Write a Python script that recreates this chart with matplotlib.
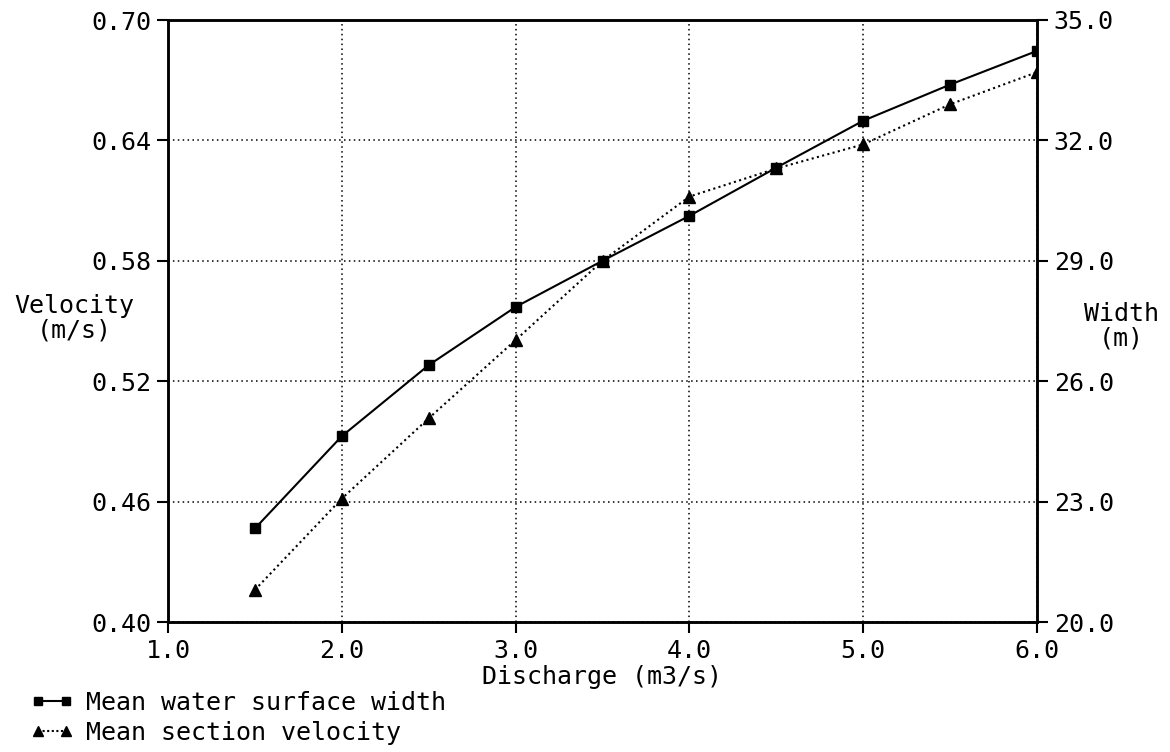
import matplotlib
matplotlib.use("Agg")
import matplotlib.pyplot as plt
from matplotlib.ticker import FormatStrFormatter
from matplotlib.lines import Line2D

# Discharge (m3/s) and the two hydraulic parameters
discharge = [1.5, 2.0, 2.5, 3.0, 3.5, 4.0, 4.5, 5.0, 5.5, 6.0]
surface_width = [22.33, 24.63, 26.40, 27.85, 29.00, 30.12, 31.32, 32.49, 33.39, 34.23]
section_velocity = [0.416, 0.4615, 0.5015, 0.5405, 0.580, 0.612, 0.626, 0.638, 0.658, 0.674]

x_ticks = [1.0, 2.0, 3.0, 4.0, 5.0, 6.0]
velocity_ticks = [0.40, 0.46, 0.52, 0.58, 0.64, 0.70]
width_ticks = [20.0, 23.0, 26.0, 29.0, 32.0, 35.0]

FONT = "DejaVu Sans Mono"
FS = 18
plt.rcParams["font.family"] = FONT

fig = plt.figure(figsize=(11.70, 7.52), dpi=100)
ax = fig.add_axes([168 / 1170, 1 - 622 / 752, (1037 - 168) / 1170, (622 - 20) / 752])
ax2 = ax.twinx()

for a in (ax, ax2):
    for sp in a.spines.values():
        sp.set_linewidth(1.8)
        sp.set_color("black")

ax.set_xlim(1.0, 6.0)
ax.set_ylim(0.40, 0.70)
ax2.set_ylim(20.0, 35.0)

ax.set_xticks(x_ticks)
ax.set_yticks(velocity_ticks)
ax2.set_yticks(width_ticks)
ax.xaxis.set_major_formatter(FormatStrFormatter("%.1f"))
ax.yaxis.set_major_formatter(FormatStrFormatter("%.2f"))
ax2.yaxis.set_major_formatter(FormatStrFormatter("%.1f"))

ax.tick_params(axis="both", direction="out", length=8, width=1.5, labelsize=FS, pad=4)
ax2.tick_params(axis="y", direction="out", length=8, width=1.5, labelsize=FS, pad=4)

# dotted grid at the inner tick positions
ax.grid(True, color="black", linestyle=(0, (1, 2.2)), linewidth=1.1)
ax.set_axisbelow(True)

ax2.plot(discharge, surface_width, color="black", linewidth=1.5,
         marker="s", markersize=7, zorder=5)
ax.plot(discharge, section_velocity, color="black", linewidth=1.5,
        linestyle=(0, (1, 1.6)), marker="^", markersize=9, zorder=5)

ax.set_xlabel("Discharge (m3/s)", fontsize=FS, labelpad=2)

fig.text(74 / 1170, 1 - 318 / 752, "Velocity\n(m/s)", fontsize=FS,
         ha="center", va="center", multialignment="center", linespacing=1.05)
fig.text(1121 / 1170, 1 - 326 / 752, "Width\n(m)", fontsize=FS,
         ha="center", va="center", multialignment="center", linespacing=1.05)

handles = [
    Line2D([], [], color="black", linewidth=1.5, marker="s", markersize=6),
    Line2D([], [], color="black", linewidth=1.5, linestyle=(0, (1, 1.2)),
           marker="^", markersize=7),
]
labels = ["Mean water surface width", "Mean section velocity"]
fig.legend(handles, labels, loc="lower left", bbox_to_anchor=(30 / 1170, 7 / 752),
           frameon=False, fontsize=FS, numpoints=2, handlelength=1.75,
           handletextpad=0.5, labelspacing=0.25, borderpad=0.0, borderaxespad=0.0)

fig.savefig("out.png", dpi=100, facecolor="white")
